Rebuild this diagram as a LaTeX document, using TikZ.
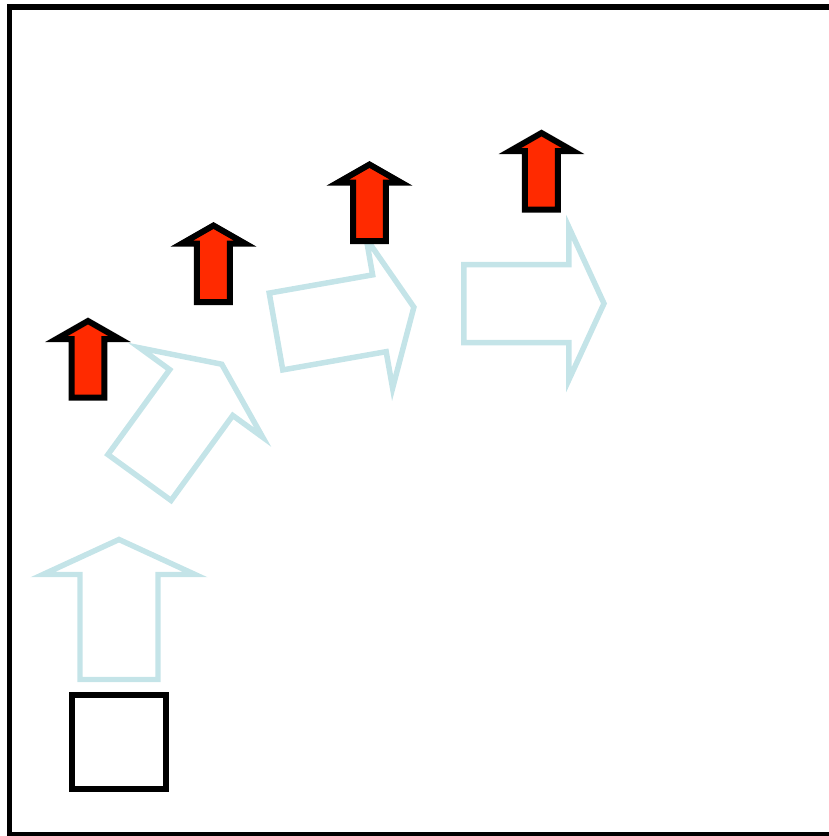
\documentclass[tikz,border=0pt]{standalone}
\usepackage{tikz}
\usepackage{xcolor}
\definecolor{turnblue}{RGB}{196, 228, 232}
\definecolor{signred}{RGB}{255, 42, 0}
\usetikzlibrary{calc,positioning}

\tikzset{
    turnarrow/.style={draw=turnblue, line width=0.055cm, miter limit=10},
    signarrow/.style={draw=black, fill=signred, line width=0.06cm, miter limit=10},
    hollowarrow/.pic={
        \draw[turnarrow] (0,-0.39) -- (1.05,-0.39) -- (1.05,-0.76) -- (1.40,0)
            -- (1.05,0.76) -- (1.05,0.39) -- (0,0.39) -- cycle;
    },
    uparrow/.pic={
        \draw[signarrow] (-0.165,0) -- (0.165,0) -- (0.165,0.585) -- (0.315,0.585)
            -- (0,0.765) -- (-0.315,0.585) -- (-0.165,0.585) -- cycle;
    }
}

\begin{document}
\begin{tikzpicture}
    \clip (0,0) rectangle (8.29,8.36);

    % Frame
    \draw[line width=0.06cm] (0.095,0.01) rectangle (8.6,8.295);

    % Start square
    \draw[line width=0.06cm] (0.72,0.47) rectangle (1.66,1.41);

    % Turning arrows
    \pic[rotate=90] at (1.19,1.565) {hollowarrow};
    \pic[rotate=54] at (1.395,3.585) {hollowarrow};
    \pic[rotate=10] at (2.76,5.045) {hollowarrow};
    \pic at (4.64,5.325) {hollowarrow};

    % Red markers
    \pic at (0.88,4.385) {uparrow};
    \pic at (2.135,5.34) {uparrow};
    \pic at (3.695,5.95) {uparrow};
    \pic at (5.415,6.265) {uparrow};
\end{tikzpicture}
\end{document}
